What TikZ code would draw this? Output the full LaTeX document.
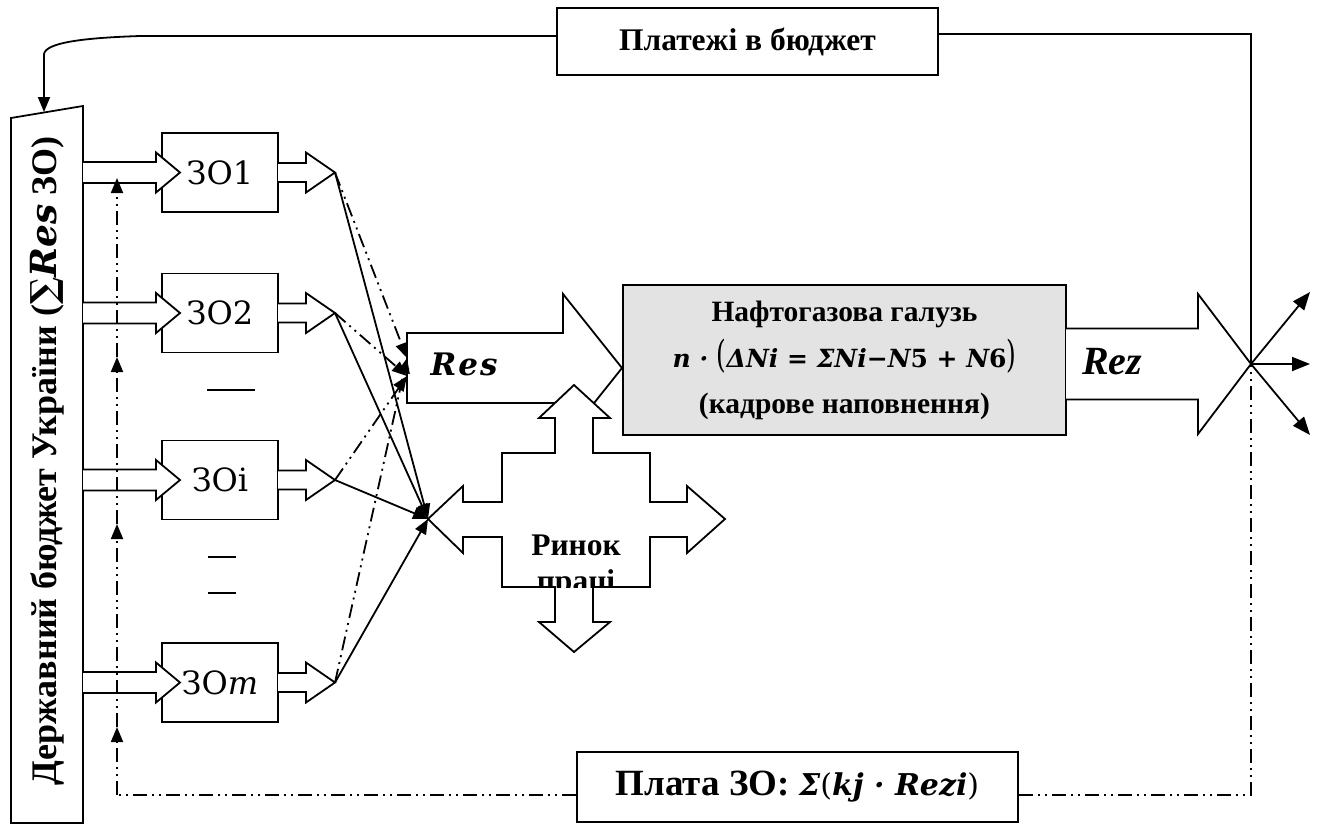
\documentclass[tikz,border=0pt]{standalone}
\usepackage{fontspec}
\usepackage{graphicx}
\setmainfont{Liberation Serif}
\newfontfamily\cambfont{DejaVu Serif}
\usetikzlibrary{arrows.meta}

\tikzset{
  zo/.style={draw, fill=white, minimum width=116pt, minimum height=79pt, inner sep=0pt,
    font=\cambfont\fontsize{32}{34}\selectfont},
  lbl/.style={draw, fill=white, inner sep=0pt, font=\bfseries\fontsize{31.5}{36}\selectfont},
  ddot/.style={dash pattern=on 14pt off 5pt on 2pt off 5pt on 2pt off 5pt},
  tip/.style={-{Triangle[length=15pt,width=12pt]}},
  tipb/.style={-{Triangle[length=18pt,width=14pt]}},
}

% block arrow: x0, head base, tip, y, shaft half width, head half width
\newcommand{\fatarrow}[6]{%
  \draw[fill=white] (#1,#4-#5) -- (#2,#4-#5) -- (#2,#4-#6) -- (#3,#4)
    -- (#2,#4+#6) -- (#2,#4+#5) -- (#1,#4+#5);}

\begin{document}
\begin{tikzpicture}[x=1pt, y=-1pt, line width=1.8pt]
  \useasboundingbox (0,0) rectangle (1321,825);

  % budget
  \draw[fill=white] (11,118) -- (83,106) -- (83,823) -- (11,823) -- cycle;
  \node[rotate=90, font=\bfseries\fontsize{36}{40}\selectfont] (budget) at (47,461)
    {Державний бюджет України ({\cambfont∑\textit{Res}} ЗО)};
  \coordinate (budtop) at (44,112);

  % payments to budget
  \node[lbl, minimum width=381pt, minimum height=67pt] (plat) at (747.5,41.5) {Платежі в бюджет};
  \coordinate (xc) at (1251,364);
  \coordinate (tr) at (1251,34);
  \coordinate (tl) at (140,36);
  \draw (xc) -- (tr) -- (tr -| plat.east);
  \draw[tip] (tl -| plat.west) -- (tl) .. controls (80,38) and (46,43) .. (44,54) -- (budtop);

  % education institutions
  \node[zo] (zo1) at (220,172.5) {ЗО1};
  \node[zo] (zo2) at (220,313) {ЗО2};
  \node[zo] (zoi) at (220,480) {ЗОi};
  \node[zo] (zom) at (220,682.5) {ЗО{\itshape m}};
  \fatarrow{83}{156}{180}{172.5}{10.5}{20}
  \fatarrow{83}{156}{180}{313}{10.5}{20}
  \fatarrow{83}{156}{180}{480}{10.5}{20}
  \fatarrow{83}{156}{180}{682.5}{10.5}{20}
  \fatarrow{278}{306}{335}{172.5}{9.5}{20}
  \fatarrow{278}{306}{335}{313}{9.5}{20}
  \fatarrow{278}{306}{335}{480}{9.5}{20}
  \fatarrow{278}{306}{335}{682.5}{9.5}{20}
  \coordinate (o1) at (335,172.5);
  \coordinate (o2) at (335,313);
  \coordinate (oi) at (335,480);
  \coordinate (om) at (335,682.5);
  \draw (207,390) -- (255,390);
  \draw (208,557) -- (236,557);
  \draw (208,593) -- (236,593);

  % Res
  \draw[fill=white] (407,333) -- (563,333) -- (563,294) -- (622,368) -- (563,442)
    -- (563,403) -- (407,403) -- cycle;
  \node[font=\cambfont\bfseries\itshape\fontsize{31}{34}\selectfont] (res) at (464,364)
    {R\kern2pt e\kern2pt s};

  % labour market
  \draw[fill=white] (428,519) -- (463,486) -- (463,502) -- (502,502) -- (502,453)
    -- (555,453) -- (555,418) -- (539,418) -- (574,385) -- (610,418) -- (593,418)
    -- (593,453) -- (650,453) -- (650,502) -- (687,502) -- (687,486) -- (725,519)
    -- (687,553) -- (687,537) -- (650,537) -- (650,587) -- (593,587) -- (593,622)
    -- (610,622) -- (574,652) -- (539,622) -- (555,622) -- (555,587) -- (502,587)
    -- (502,537) -- (463,537) -- (463,553) -- cycle;
  \begin{scope}
    \clip (502,453) rectangle (650,587);
    \node[font=\bfseries\fontsize{31.5}{36}\selectfont, anchor=base] (rynok) at (576,555) {Ринок};
    \node[font=\bfseries\fontsize{31.5}{36}\selectfont, anchor=base] (pratsi) at (576,591) {праці};
  \end{scope}
  \coordinate (rl) at (428,519);
  \coordinate (r1) at (407,358);
  \coordinate (r2) at (407,376);

  % oil and gas industry
  \node[draw, fill=gray!22, minimum width=443pt, minimum height=150pt, align=center,
    font=\bfseries\fontsize{29.5}{46}\selectfont] (galuz) at (844.5,360)
    {Нафтогазова галузь\\
     {\cambfont\bfseries\itshape\fontsize{25}{46}\selectfont n · \scalebox{1}[1.5]{\mdseries\upshape(}ΔNi
      = ΣNi−N{\upshape 5} + N{\upshape 6}\scalebox{1}[1.5]{\mdseries\upshape)}}\\
     (кадрове наповнення)};

  % Rez
  \fatarrow{1066}{1198}{1251}{364}{35.5}{70}
  \node[font=\bfseries\itshape\fontsize{40}{42}\selectfont] (rez) at (1112,362) {Rez};
  \draw[tipb] (xc) -- (1310,292);
  \draw[tipb] (xc) -- (1310,364);
  \draw[tipb] (xc) -- (1310,435);

  % flows to the market and to Res
  \draw[tip] (o1) -- (rl);
  \draw[tip] (o2) -- (rl);
  \draw[tip] (oi) -- (rl);
  \draw[tip] (om) -- (rl);
  \draw[ddot,tip] (o1) -- (r1);
  \draw[ddot,tip] (o2) -- (r2);
  \draw[ddot,tip] (oi) -- (r2);
  \draw[ddot,tip] (om) -- (r1);

  % payment for education
  \node[draw, fill=white, minimum width=441pt, minimum height=70pt, inner sep=0pt] (pay) at (797.5,787)
    {{\bfseries\fontsize{37}{38}\selectfont Плата ЗО:~}{\cambfont\bfseries\itshape\fontsize{30}{32}\selectfont
     Σ{\mdseries\upshape(}kj · Rezi{\mdseries\upshape)}}};
  \coordinate (bl) at (117,795);
  \coordinate (br) at (1251,795);
  \coordinate (d4) at (117,727);
  \coordinate (d3) at (117,524);
  \coordinate (d2) at (117,357);
  \coordinate (d1) at (117,178);
  \draw[ddot] (pay.west |- bl) -- (bl);
  \draw[ddot] (pay.east |- br) -- (br) -- (xc);
  \draw[ddot,tip] (bl) -- (d4);
  \draw[ddot,tip] (d4) -- (d3);
  \draw[ddot,tip] (d3) -- (d2);
  \draw[ddot,tip] (d2) -- (d1);
\end{tikzpicture}
\end{document}
